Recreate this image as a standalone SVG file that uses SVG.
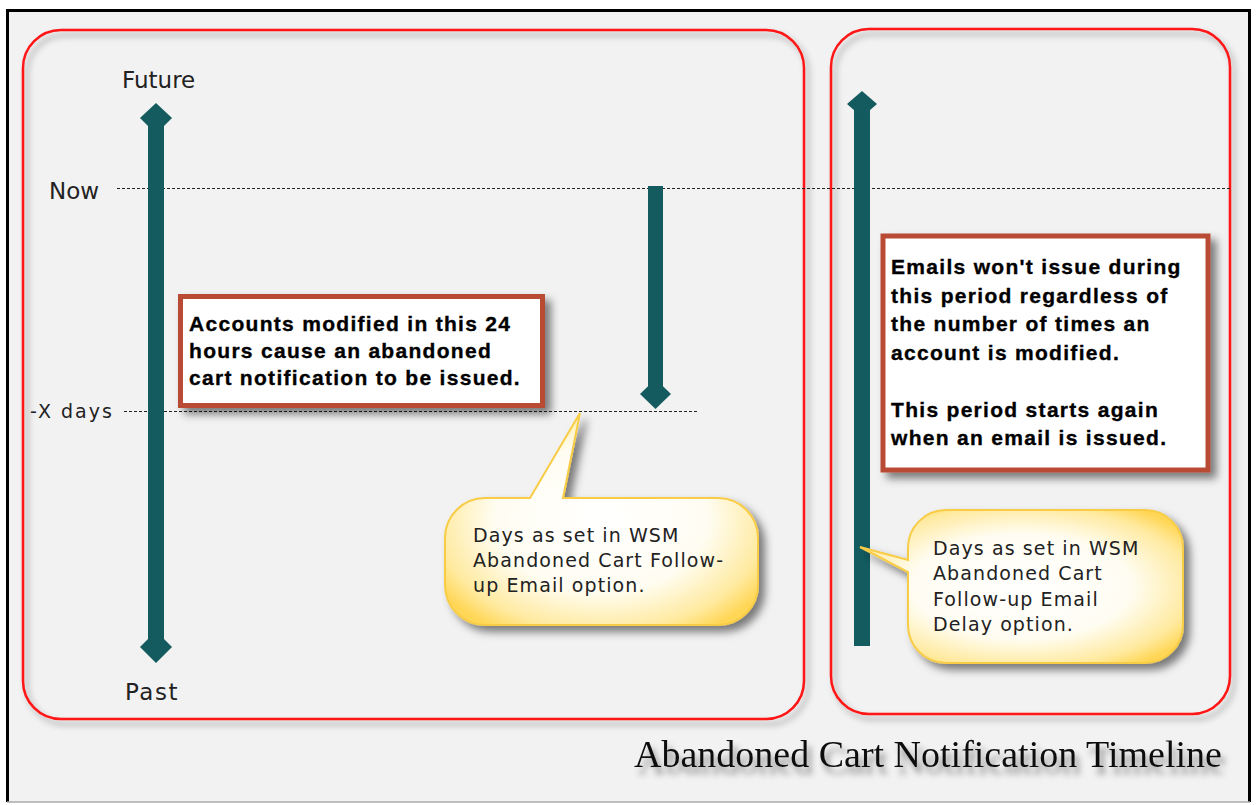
<svg xmlns="http://www.w3.org/2000/svg" width="1256" height="805" viewBox="0 0 1256 805">
<style>
.lbl{font-family:"DejaVu Sans",Verdana,sans-serif;fill:#222}
.note{font-family:"Liberation Sans",Arial,sans-serif;font-weight:bold;font-size:21px;letter-spacing:1.3px;fill:#000;stroke:#000;stroke-width:0.35}
.call{font-family:"DejaVu Sans",Verdana,sans-serif;font-size:19px;letter-spacing:1.1px;fill:#222}
.teal{fill:#135b5f}
.frame{fill:none;stroke:#ff1414;stroke-width:2.5}
.nbox{fill:#fff;stroke:#b94c36;stroke-width:5}
.dash{stroke:#222;stroke-width:1.2;stroke-dasharray:3 2;fill:none}
.band{stroke:#d6d6d6;stroke-width:6;fill:none}
.cbox{fill:url(#yg);stroke:#f8cc45;stroke-width:2}
</style>
<defs>
<filter id="sh" x="-10%" y="-10%" width="125%" height="125%">
<feDropShadow dx="4" dy="5" stdDeviation="3" flood-color="#000" flood-opacity="0.35"/>
</filter>
<filter id="sh2" x="-10%" y="-10%" width="125%" height="130%">
<feDropShadow dx="6" dy="6" stdDeviation="4" flood-color="#000" flood-opacity="0.5"/>
</filter>
<filter id="blur" x="-5%" y="-200%" width="110%" height="500%">
<feGaussianBlur stdDeviation="2"/>
</filter>
<filter id="tsh" x="-5%" y="-30%" width="110%" height="180%">
<feDropShadow dx="4" dy="7" stdDeviation="3" flood-color="#000" flood-opacity="0.45"/>
</filter>
<radialGradient id="yg" cx="0.5" cy="0.5" r="0.62">
<stop offset="0" stop-color="#ffffff"/>
<stop offset="0.55" stop-color="#fffdf2"/>
<stop offset="0.85" stop-color="#ffeaa0"/>
<stop offset="1" stop-color="#ffd655"/>
</radialGradient>
</defs>

<rect x="0" y="0" width="1256" height="805" fill="#fff"/>
<rect x="6" y="9" width="1244" height="793" fill="#f2f2f2"/>
<path d="M7.5 802 V10.5 H1249.5 V802" fill="none" stroke="#000" stroke-width="3"/>
<line x1="7" y1="802" x2="1250" y2="802" stroke="#aaa" stroke-width="1.5"/>

<g id="panel-left">
<rect class="frame" x="23" y="30" width="781" height="689" rx="38" filter="url(#sh)"/>
</g>
<g id="panel-right">
<rect class="frame" x="831" y="29" width="399" height="685" rx="38" filter="url(#sh)"/>
</g>

<g id="connectors">
<line class="band" x1="125" y1="180" x2="1232" y2="180" filter="url(#blur)"/>
<line class="band" x1="124" y1="403" x2="697" y2="403" filter="url(#blur)"/>
<line class="dash" x1="117" y1="188.5" x2="1232" y2="188.5"/>
<line class="dash" x1="124" y1="411.5" x2="697" y2="411.5"/>
</g>

<g id="timeline-main">
<rect class="teal" x="148" y="118" width="16" height="529"/>
<polygon class="teal" points="156,103 172,118 156,134 140,118"/>
<polygon class="teal" points="156,663 172,647 156,631 140,647"/>
</g>

<g id="period-arrow">
<rect class="teal" x="648" y="186" width="15" height="208"/>
<polygon class="teal" points="655.5,409 671,394 655.5,379 640,394"/>
</g>

<g id="delay-bar">
<rect class="teal" x="854" y="104" width="16" height="542"/>
<polygon class="teal" points="862,91 877,104 862,117 847,104"/>
</g>

<g id="label-future"><text class="lbl" x="122" y="88" font-size="23">Future</text></g>
<g id="label-now"><text class="lbl" x="49" y="199" font-size="23">Now</text></g>
<g id="label-xdays"><text class="lbl" x="30" y="418" font-size="19" letter-spacing="2">-X days</text></g>
<g id="label-past"><text class="lbl" x="125" y="700" font-size="23" letter-spacing="1.5">Past</text></g>

<g id="note-accounts">
<rect class="nbox" x="180.5" y="296.5" width="362" height="109" filter="url(#sh2)"/>
<text class="note" x="189" y="331">Accounts modified in this 24</text>
<text class="note" x="189" y="358">hours cause an abandoned</text>
<text class="note" x="189" y="385">cart notification to be issued.</text>
</g>

<g id="note-emails">
<rect class="nbox" x="883" y="236" width="325" height="234" filter="url(#sh2)"/>
<text class="note" x="891" y="274">Emails won't issue during</text>
<text class="note" x="891" y="302.5">this period regardless of</text>
<text class="note" x="891" y="331">the number of times an</text>
<text class="note" x="891" y="359.5">account is modified.</text>
<text class="note" x="891" y="416.5">This period starts again</text>
<text class="note" x="891" y="445">when an email is issued.</text>
</g>

<g id="callout-days">
<path class="cbox" filter="url(#sh2)" d="M485 498 H530 L580 413 L563 498 H718 A40 40 0 0 1 758 538 V585 A40 40 0 0 1 718 625 H485 A40 40 0 0 1 445 585 V538 A40 40 0 0 1 485 498 Z"/>
<text class="call" x="473" y="542">Days as set in WSM</text>
<text class="call" x="473" y="567">Abandoned Cart Follow-</text>
<text class="call" x="473" y="592">up Email option.</text>
</g>

<g id="callout-delay">
<path class="cbox" filter="url(#sh2)" d="M946 510 H1145 A38 38 0 0 1 1183 548 V625 A38 38 0 0 1 1145 663 H946 A38 38 0 0 1 908 625 V572 L860 547 L908 560 V548 A38 38 0 0 1 946 510 Z"/>
<text class="call" x="933" y="555">Days as set in WSM</text>
<text class="call" x="933" y="580">Abandoned Cart</text>
<text class="call" x="933" y="606">Follow-up Email</text>
<text class="call" x="933" y="631">Delay option.</text>
</g>

<g id="title">
<text x="634" y="767" font-family="'Liberation Serif','Times New Roman',serif" font-size="38" fill="#111" filter="url(#tsh)">Abandoned Cart Notification Timeline</text>
</g>
</svg>
